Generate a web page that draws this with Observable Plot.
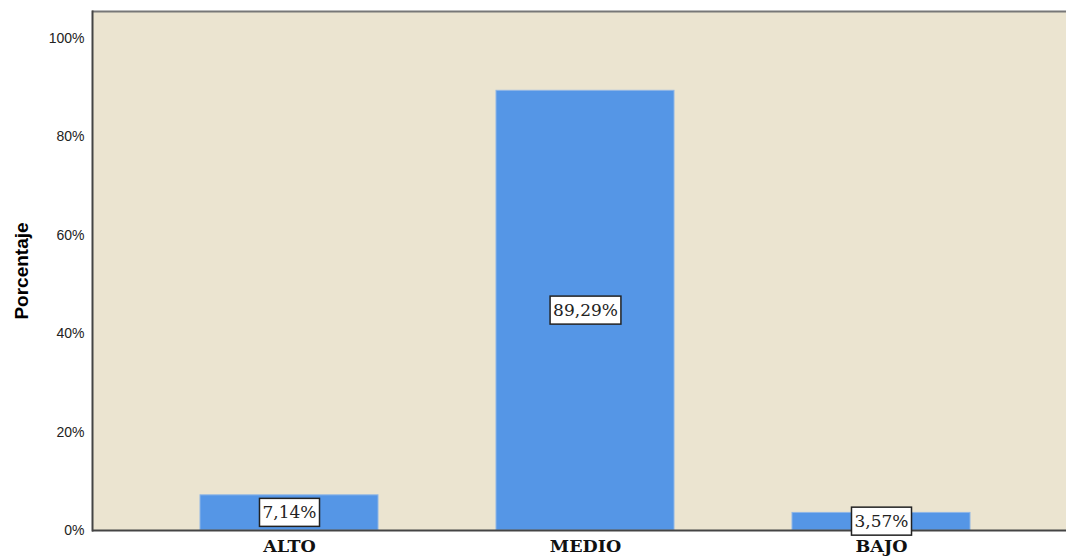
<!DOCTYPE html>
<html><head><meta charset="utf-8">
<script src="https://cdn.jsdelivr.net/npm/d3@7"></script>
<script src="https://cdn.jsdelivr.net/npm/@observablehq/plot@0.6"></script>
<style>body{margin:0;background:#fff;overflow:hidden}</style>
</head><body><div id="chart"></div>
<script>
const categories = ["ALTO", "MEDIO", "BAJO"];
const percentages = [7.14, 89.29, 3.57];
const valueLabels = ["7,14%", "89,29%", "3,57%"];
const yTicks = [0, 20, 40, 60, 80, 100];
const yTickLabels = ["0%", "20%", "40%", "60%", "80%", "100%"];
const yTitle = "Porcentaje";

const data = categories.map((c, i) => ({category: c, value: percentages[i], label: valueLabels[i]}));
const tickLabel = new Map(yTicks.map((t, i) => [t, yTickLabels[i]]));

const chart = Plot.plot({
  width: 1066,
  height: 557,
  marginTop: 11,
  marginBottom: 27,
  marginLeft: 92,
  marginRight: 0,
  style: {background: "#fff", overflow: "hidden"},
  x: {domain: categories, range: [92, 1078], paddingInner: 0.4, paddingOuter: 0.365, label: null},
  y: {domain: [0, 105.4], label: null},
  marks: [
    Plot.frame({fill: "#EBE4D0", stroke: null}),
    Plot.barY(data, {x: "category", y: "value", fill: "#5596E6", stroke: "#8fb6e6", strokeWidth: 1, inset: 0}),
    Plot.ruleY([105.4], {stroke: "#777", strokeWidth: 2}),
    Plot.frame({anchor: "left", stroke: "#444", strokeWidth: 2}),
    Plot.ruleY([0], {stroke: "#444", strokeWidth: 2}),
    Plot.axisY({ticks: yTicks, tickSize: 0, tickPadding: 8, tickFormat: d => tickLabel.get(d),
      fontFamily: "Liberation Sans, Arial, sans-serif", fontSize: 14, fill: "#222", label: null}),
    Plot.axisX({tickSize: 0, tickPadding: 9, fontFamily: "DejaVu Serif, serif", fontSize: 17.5,
      fontWeight: "bold", fill: "#111", label: null}),
    Plot.text([yTitle], {frameAnchor: "left", textAnchor: "middle", dx: -71, rotate: -90,
      fontFamily: "Liberation Sans, Arial, sans-serif", fontSize: 19, fontWeight: "bold", fill: "#000"}),
    Plot.text(data, {x: "category", y: d => d.value / 2, text: "label", className: "vlabel",
      fontFamily: "DejaVu Serif, serif", fontSize: 17, fill: "#222"})
  ]
});
document.getElementById("chart").appendChild(chart);

// draw white boxes with black border behind the value labels
chart.querySelectorAll("g.vlabel text").forEach(t => {
  const b = t.getBBox();
  const r = document.createElementNS("http://www.w3.org/2000/svg", "rect");
  r.setAttribute("x", b.x - 3);
  r.setAttribute("y", b.y - 4);
  r.setAttribute("width", b.width + 6);
  r.setAttribute("height", b.height + 8);
  r.setAttribute("fill", "#fff");
  r.setAttribute("stroke", "#222");
  r.setAttribute("stroke-width", 1.5);
  if (t.getAttribute("transform")) r.setAttribute("transform", t.getAttribute("transform"));
  t.parentNode.insertBefore(r, t);
});
</script>
</body></html>
